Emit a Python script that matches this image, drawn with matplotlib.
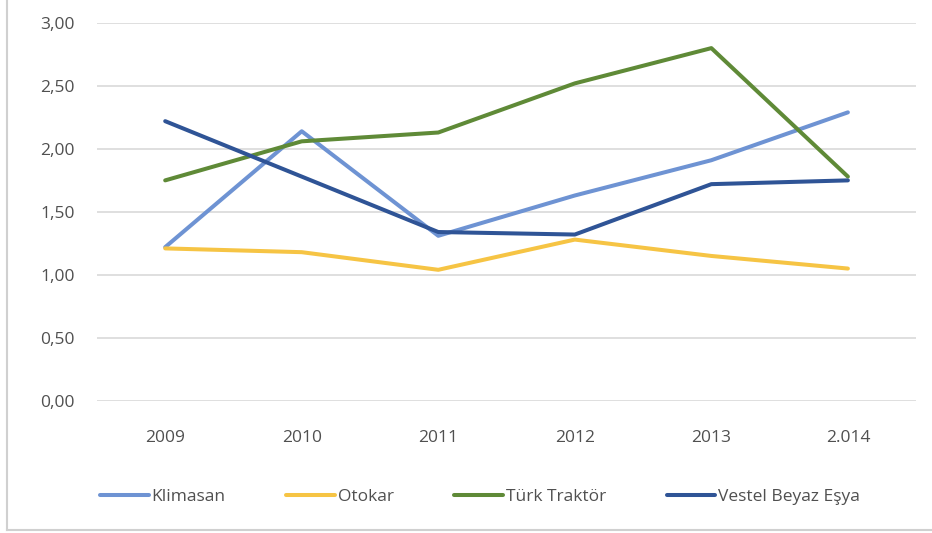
import matplotlib
matplotlib.use("Agg")
import matplotlib.pyplot as plt
from matplotlib.lines import Line2D

years = ["2009", "2010", "2011", "2012", "2013", "2.014"]
klimasan = [1.22, 2.14, 1.31, 1.63, 1.91, 2.29]
otokar = [1.21, 1.18, 1.04, 1.28, 1.15, 1.05]
turk_traktor = [1.75, 2.06, 2.13, 2.52, 2.80, 1.78]
vestel = [2.22, 1.78, 1.34, 1.32, 1.72, 1.75]
series_names = ["Klimasan", "Otokar", "Türk Traktör", "Vestel Beyaz Eşya"]
yticks = [0.0, 0.5, 1.0, 1.5, 2.0, 2.5, 3.0]
ytick_labels = ["0,00", "0,50", "1,00", "1,50", "2,00", "2,50", "3,00"]

colors = ["#6E93D3", "#F6C444", "#5F8A37", "#2F5496"]
plt.rcParams['font.family'] = ['Open Sans', 'DejaVu Sans']
txt_color = "#505050"

fig = plt.figure(figsize=(9.32, 5.33), dpi=100)
ax = fig.add_axes([0.104, 0.248, 0.879, 0.709])

x = list(range(len(years)))
for vals, c, name in zip([klimasan, otokar, turk_traktor, vestel], colors, series_names):
    ax.plot(x, vals, color=c, lw=2.9, label=name, solid_capstyle='round', solid_joinstyle='round')

ax.set_xlim(-0.5, 5.5)
ax.set_ylim(0, 3.0)
ax.set_yticks(yticks)
ax.set_yticklabels(ytick_labels)
ax.set_xticks(x)
ax.set_xticklabels(years)
ax.yaxis.grid(True, color="#D9D9D9", lw=1.2)
ax.set_axisbelow(True)
for s in ax.spines.values():
    s.set_visible(False)
ax.tick_params(axis='both', length=0, colors=txt_color, labelsize=12.5)
ax.tick_params(axis='y', pad=16)
ax.tick_params(axis='x', pad=21)

leg = fig.legend(loc='center', bbox_to_anchor=(0.515, 0.068), ncol=4, frameon=False,
                 fontsize=12.5, handlelength=2.8, handletextpad=0.15, columnspacing=3.5)
for t in leg.get_texts():
    t.set_color(txt_color)

# outer frame (left and bottom edges as in reference)
fig.add_artist(Line2D([0.008, 0.008], [0.005, 1.0], transform=fig.transFigure, color="#D0D0D0", lw=1.5))
fig.add_artist(Line2D([0.008, 1.0], [0.006, 0.006], transform=fig.transFigure, color="#D0D0D0", lw=1.5))

fig.savefig("out.png", dpi=100, facecolor="white")
